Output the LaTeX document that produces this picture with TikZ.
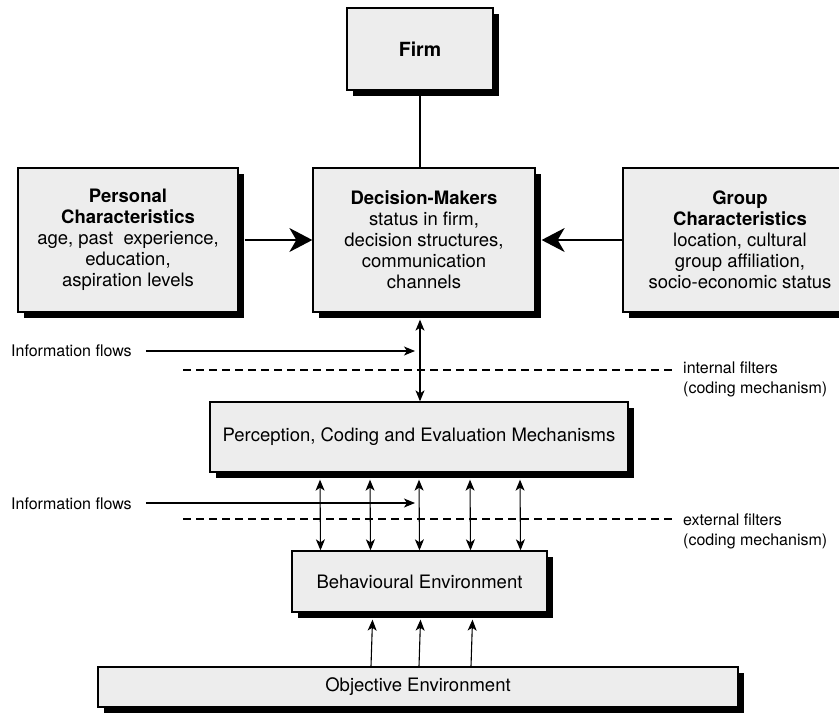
\documentclass[tikz,border=0pt]{standalone}
\usepackage{fontspec}
\setmainfont{TeX Gyre Heros}
\usetikzlibrary{arrows.meta,shadows,calc}
\definecolor{boxfill}{gray}{0.93}
\begin{document}
\begin{tikzpicture}[x=1pt,y=-1pt,
  box/.style={draw, line width=1.3pt, fill=boxfill, align=center, inner sep=0pt,
    font=\fontsize{18.5}{21}\selectfont,
    drop shadow={shadow xshift=6pt, shadow yshift=-6pt, fill=black, opacity=1}},
  lbl/.style={inner sep=0pt, font=\fontsize{16}{19.5}\selectfont},
  conn/.style={line width=1.2pt},
  bigarrow/.style={line width=1.3pt, -{Stealth[length=23pt,width=24pt,inset=7pt]}},
  dbl/.style={line width=1.1pt, {Stealth[length=11pt,width=9pt,inset=3pt]}-{Stealth[length=11pt,width=9pt,inset=3pt]}},
  uparrow/.style={line width=1.1pt, -{Stealth[length=11pt,width=9pt,inset=3pt]}},
  flow/.style={line width=1.1pt, -{Stealth[length=11pt,width=9pt,inset=3pt]}},
  filt/.style={line width=1.6pt, dash pattern=on 8pt off 5pt}]
\useasboundingbox (0,0) rectangle (839,713);

% boxes
\node[box, minimum width=146pt, minimum height=82pt] (firm) at (420,49)
  {\bfseries\fontsize{19.5}{22}\selectfont Firm};
\node[box, minimum width=220pt, minimum height=144pt] (pc) at (128,240)
  {\textbf{Personal}\\\textbf{Characteristics}\\age, past\ \ experience,\\education,\\aspiration levels};
\node[box, minimum width=222pt, minimum height=144pt] (dm) at (424,240)
  {\textbf{Decision-Makers}\\status in firm,\\decision structures,\\communication\\channels};
\node[box, minimum width=234pt, minimum height=144pt] (gc) at (740,240)
  {\textbf{Group}\\\textbf{Characteristics}\\location, cultural\\group affiliation,\\socio-economic status};
\node[box, minimum width=418pt, minimum height=70pt] (pce) at (419,437)
  {Perception, Coding and Evaluation Mechanisms};
\node[box, minimum width=255pt, minimum height=61pt] (be) at (419.5,581.5)
  {Behavioural Environment};
\node[box, minimum width=640pt, minimum height=40pt] (obj) at (418,687)
  {Objective Environment};

% links between the boxes
\draw[conn] (firm.south) -- (firm.south |- dm.north);
\draw[bigarrow] ([xshift=6pt]pc.east) -- (dm.west);
\draw[bigarrow] (gc.west) -- ([xshift=6pt]dm.east);
\draw[dbl] ($(firm.south |- dm.south)+(0,7)$) -- (firm.south |- pce.north);
\foreach \dx in {-99,-49,0,51,101}
  \draw[dbl] ([xshift=\dx pt, yshift=-7pt]pce.south) -- ([xshift=\dx pt]be.north);
\foreach \dx in {-47,1,53}
  \draw[uparrow] ([xshift=\dx pt]obj.north) -- ([xshift=\dx pt, yshift=-7pt]be.south);

% information flows and filters
\node[lbl, anchor=west] (if1) at (11,351) {Information flows};
\coordinate (if1e) at (415,351);
\draw[flow] ([xshift=14pt]if1.east) -- (if1e);
\node[lbl, anchor=west] (if2) at (11,504) {Information flows};
\coordinate (if2e) at (415,503);
\draw[flow] ([xshift=14pt]if2.east |- if2e) -- (if2e);

\coordinate (dl1) at (183,370);
\coordinate (dr1) at (672,370);
\draw[filt] (dl1) -- (dr1);
\node[lbl, anchor=west, align=left] (intf) at (683,379.5)
  {internal filters\\(coding mechanism)};

\coordinate (dl2) at (183,519);
\coordinate (dr2) at (672,519);
\draw[filt] (dl2) -- (dr2);
\node[lbl, anchor=west, align=left] (extf) at (683,531.5)
  {external filters\\(coding mechanism)};
\end{tikzpicture}
\end{document}
